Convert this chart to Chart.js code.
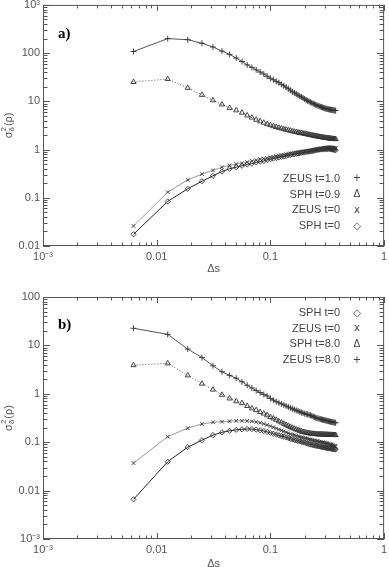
<!DOCTYPE html>
<html>
<head>
<meta charset="utf-8">
<script src="https://cdn.jsdelivr.net/npm/chart.js@4.4.0/dist/chart.umd.min.js"></script>
<style>
  body { margin: 0; background: #fff; width: 389px; height: 567px; overflow: hidden; }
  canvas { display: block; }
</style>
</head>
<body>
<canvas id="panelA" width="389" height="283"></canvas>
<canvas id="panelB" width="389" height="284"></canvas>
<script>
// grid spacing Δs (both panels)
const deltaS = [0.00625, 0.0125, 0.01875, 0.025, 0.03125, 0.0375, 0.04375, 0.05, 0.05625, 0.0625,
  0.06875, 0.075, 0.08125, 0.0875, 0.09375, 0.1, 0.10625, 0.1125, 0.11875, 0.125,
  0.13125, 0.1375, 0.14375, 0.15, 0.15625, 0.1625, 0.16875, 0.175, 0.18125, 0.1875,
  0.19375, 0.2, 0.20625, 0.2125, 0.21875, 0.225, 0.23125, 0.2375, 0.24375, 0.25,
  0.25625, 0.2625, 0.26875, 0.275, 0.28125, 0.2875, 0.29375, 0.3, 0.30625, 0.3125,
  0.31875, 0.325, 0.33125, 0.3375, 0.34375, 0.35, 0.35625, 0.3625, 0.36875, 0.375];

// panel a
const zeusT10 = [108, 200, 190, 160, 134, 110, 94, 79, 67, 57,
  50.6, 45, 40.5, 37, 33, 30, 28, 26, 24.3, 22.5,
  21, 19.6, 18.3, 17, 15.8, 15, 14.2, 13.4, 12.8, 12.3,
  11.7, 11.2, 10.7, 10.3, 9.9, 9.6, 9.3, 9.0, 8.75, 8.5,
  8.3, 8.1, 7.9, 7.75, 7.6, 7.45, 7.3, 7.2, 7.1, 7.0,
  6.92, 6.85, 6.78, 6.72, 6.66, 6.6, 6.55, 6.5, 6.47, 6.44];
const sphT09 = [25.2, 29, 19, 13.6, 10.5, 8.6, 7.3, 6.5, 5.8, 5.1,
  4.6, 4.15, 3.85, 3.6, 3.35, 3.2, 3.05, 2.93, 2.83, 2.74,
  2.65, 2.59, 2.52, 2.46, 2.4, 2.35, 2.3, 2.26, 2.22, 2.19,
  2.16, 2.12, 2.09, 2.06, 2.03, 2.0, 1.98, 1.95, 1.93, 1.9,
  1.88, 1.86, 1.84, 1.82, 1.81, 1.79, 1.77, 1.76, 1.75, 1.73,
  1.72, 1.71, 1.7, 1.69, 1.68, 1.67, 1.66, 1.66, 1.65, 1.65];
const zeusT0a = [0.026, 0.131, 0.235, 0.31, 0.37, 0.43, 0.47, 0.5, 0.52, 0.55,
  0.58, 0.6, 0.63, 0.65, 0.67, 0.69, 0.71, 0.73, 0.75, 0.77,
  0.78, 0.8, 0.81, 0.83, 0.84, 0.85, 0.87, 0.88, 0.89, 0.9,
  0.91, 0.92, 0.93, 0.94, 0.95, 0.96, 0.97, 0.98, 0.99, 1.0,
  1.01, 1.02, 1.03, 1.04, 1.05, 1.06, 1.07, 1.08, 1.09, 1.1,
  1.1, 1.11, 1.11, 1.11, 1.1, 1.1, 1.09, 1.08, 1.07, 1.06];
const sphT0a = [0.0175, 0.084, 0.154, 0.22, 0.285, 0.35, 0.4, 0.43, 0.46, 0.49,
  0.51, 0.54, 0.56, 0.58, 0.61, 0.63, 0.65, 0.67, 0.69, 0.71,
  0.72, 0.74, 0.76, 0.77, 0.79, 0.8, 0.82, 0.83, 0.84, 0.86,
  0.87, 0.88, 0.89, 0.9, 0.91, 0.92, 0.93, 0.94, 0.95, 0.97,
  0.98, 0.99, 1.0, 1.0, 1.01, 1.02, 1.02, 1.03, 1.03, 1.03,
  1.04, 1.04, 1.03, 1.03, 1.02, 1.01, 1.0, 0.99, 0.98, 0.97];

// panel b
const zeusT80 = [22.6, 16.9, 8.4, 5.6, 3.8, 2.85, 2.4, 2.1, 1.77, 1.5,
  1.32, 1.17, 1.06, 0.97, 0.9, 0.8, 0.74, 0.69, 0.65, 0.62,
  0.59, 0.56, 0.535, 0.51, 0.49, 0.47, 0.455, 0.44, 0.425, 0.41,
  0.4, 0.39, 0.38, 0.375, 0.365, 0.36, 0.35, 0.34, 0.33, 0.32,
  0.315, 0.31, 0.305, 0.3, 0.296, 0.292, 0.288, 0.285, 0.281, 0.278,
  0.275, 0.272, 0.268, 0.265, 0.262, 0.26, 0.258, 0.256, 0.254, 0.252];
const sphT80 = [3.9, 4.25, 2.4, 1.62, 1.22, 0.95, 0.8, 0.7, 0.64, 0.56,
  0.5, 0.46, 0.42, 0.39, 0.36, 0.33, 0.31, 0.29, 0.27, 0.255,
  0.24, 0.228, 0.217, 0.207, 0.198, 0.19, 0.183, 0.177, 0.172, 0.167,
  0.163, 0.16, 0.157, 0.155, 0.153, 0.151, 0.15, 0.149, 0.148, 0.147,
  0.146, 0.146, 0.145, 0.145, 0.145, 0.144, 0.144, 0.144, 0.143, 0.143,
  0.143, 0.142, 0.142, 0.142, 0.142, 0.141, 0.141, 0.141, 0.141, 0.14];
const zeusT0b = [0.037, 0.13, 0.195, 0.238, 0.258, 0.266, 0.272, 0.276, 0.277, 0.275,
  0.27, 0.262, 0.252, 0.24, 0.228, 0.215, 0.204, 0.193, 0.183, 0.175,
  0.167, 0.16, 0.153, 0.147, 0.143, 0.139, 0.135, 0.132, 0.129, 0.126,
  0.124, 0.122, 0.12, 0.118, 0.115, 0.113, 0.111, 0.109, 0.108, 0.106,
  0.105, 0.104, 0.102, 0.101, 0.1, 0.099, 0.098, 0.097, 0.096, 0.095,
  0.094, 0.092, 0.091, 0.09, 0.089, 0.087, 0.086, 0.085, 0.083, 0.082];
const sphT0b = [0.0066, 0.0395, 0.079, 0.11, 0.14, 0.16, 0.172, 0.18, 0.185, 0.188,
  0.186, 0.182, 0.176, 0.17, 0.163, 0.156, 0.15, 0.144, 0.139, 0.134,
  0.13, 0.126, 0.122, 0.118, 0.115, 0.112, 0.109, 0.106, 0.104, 0.102,
  0.1, 0.098, 0.096, 0.094, 0.092, 0.09, 0.089, 0.087, 0.086, 0.085,
  0.084, 0.083, 0.082, 0.081, 0.08, 0.079, 0.078, 0.078, 0.077, 0.076,
  0.076, 0.075, 0.074, 0.074, 0.073, 0.073, 0.072, 0.072, 0.071, 0.071];

const xTicks = [0.001, 0.01, 0.1, 1];
const xTickLabels = ['10\u207B\u00B3', '0.01', '0.1', '1'];
const yTicksA = [0.01, 0.1, 1, 10, 100, 1000];
const yTickLabelsA = ['0.01', '0.1', '1', '10', '100', '10\u00B3'];
const yTicksB = [0.001, 0.01, 0.1, 1, 10, 100];
const yTickLabelsB = ['10\u207B\u00B3', '0.01', '0.1', '1', '10', '100'];

const legendA = [['ZEUS t=1.0', '+'], ['SPH t=0.9', '\u0394'], ['ZEUS t=0', 'x'], ['SPH t=0', '\u25C7']];
const legendB = [['SPH t=0', '\u25C7'], ['ZEUS t=0', 'x'], ['SPH t=8.0', '\u0394'], ['ZEUS t=8.0', '+']];

const LBL = '#555';
const FONT = '"Liberation Sans", Arial, sans-serif';

function series(vals, style, lineColor, dash, radius) {
  return {
    data: deltaS.map((x, i) => ({ x: x, y: vals[i] })),
    showLine: true,
    borderColor: lineColor,
    borderWidth: 1,
    borderDash: dash || [],
    pointStyle: style,
    pointRadius: radius,
    pointBorderColor: '#333',
    pointBackgroundColor: 'rgba(0,0,0,0)',
    pointBorderWidth: 0.9
  };
}

// box, inward major/minor ticks, labels, legend
const panelDecor = {
  id: 'panelDecor',
  afterDraw(chart, args, o) {
    const { ctx, chartArea: ca, scales: { x, y } } = chart;
    ctx.save();
    ctx.strokeStyle = '#555';
    ctx.lineWidth = 1;
    ctx.strokeRect(ca.left + 0.5, ca.top + 0.5, ca.width - 1, ca.height - 1);
    ctx.beginPath();
    const logTicks = (sc, fn) => {
      const e0 = Math.round(Math.log10(sc.min)), e1 = Math.round(Math.log10(sc.max));
      for (let e = e0; e <= e1; e++) {
        for (let m = 1; m <= 9; m++) {
          const v = m * Math.pow(10, e);
          if (v > sc.max * 1.0001) break;
          fn(Math.round(sc.getPixelForValue(v)) + 0.5, m === 1 ? 6 : 3.5);
        }
      }
    };
    logTicks(x, (px, len) => {
      ctx.moveTo(px, ca.bottom); ctx.lineTo(px, ca.bottom - len);
      ctx.moveTo(px, ca.top); ctx.lineTo(px, ca.top + len);
    });
    logTicks(y, (py, len) => {
      ctx.moveTo(ca.left, py); ctx.lineTo(ca.left + len + 1, py);
      ctx.moveTo(ca.right, py); ctx.lineTo(ca.right - len - 1, py);
    });
    ctx.stroke();

    // panel letter
    ctx.fillStyle = '#000';
    ctx.font = 'bold 15px "Liberation Serif", serif';
    ctx.textBaseline = 'middle';
    ctx.textAlign = 'left';
    ctx.fillText(o.letter, 58, ca.top + o.letterDy);

    // legend
    ctx.fillStyle = '#444';
    o.rows.forEach((r, i) => {
      const ry = ca.top + o.legendDy + i * 15.7;
      ctx.font = '11px ' + FONT;
      ctx.textAlign = 'right';
      ctx.fillText(r[0], 340, ry);
      ctx.font = '10px "DejaVu Sans", sans-serif';
      ctx.textAlign = 'center';
      ctx.fillText(r[1], 357, ry);
    });

    // x title
    ctx.fillStyle = LBL;
    ctx.font = '11px ' + FONT;
    ctx.textAlign = 'center';
    ctx.fillText('\u0394s', (ca.left + ca.right) / 2, ca.bottom + o.titleDy);

    // y title sigma_delta^2(rho), rotated
    ctx.translate(9, (ca.top + ca.bottom) / 2);
    ctx.rotate(-Math.PI / 2);
    ctx.textAlign = 'left';
    ctx.font = '11px ' + FONT;
    const wS = ctx.measureText('\u03C3').width;
    ctx.font = '8px ' + FONT;
    const wSub = Math.max(ctx.measureText('\u03B4').width, ctx.measureText('2').width);
    ctx.font = '11px ' + FONT;
    const wP = ctx.measureText('(\u03C1)').width;
    let cx = -(wS + wSub + 1 + wP) / 2;
    ctx.fillText('\u03C3', cx, 0);
    cx += wS;
    ctx.font = '8px ' + FONT;
    ctx.fillText('\u03B4', cx, 3);
    ctx.fillText('2', cx, -5);
    cx += wSub + 1;
    ctx.font = '11px ' + FONT;
    ctx.fillText('(\u03C1)', cx, 0);
    ctx.restore();
  }
};

function buildPanel(id, datasets, yMin, yMax, yTicks, yLabels, scaleH, padTop, decor) {
  new Chart(document.getElementById(id).getContext('2d'), {
    type: 'scatter',
    data: { datasets: datasets },
    options: {
      responsive: false,
      animation: false,
      layout: { padding: { top: padTop, right: 1, left: 0, bottom: 0 } },
      plugins: { legend: { display: false }, tooltip: { enabled: false }, panelDecor: decor },
      scales: {
        x: {
          type: 'logarithmic', min: 0.001, max: 1,
          grid: { display: false, drawTicks: false }, border: { display: false },
          afterBuildTicks: sc => { sc.ticks = xTicks.map(v => ({ value: v })); },
          afterFit: sc => { sc.height = scaleH; sc.paddingLeft = 0; sc.paddingRight = 0; },
          ticks: {
            autoSkip: false, maxRotation: 0, padding: 4, color: LBL,
            font: { family: FONT, size: 11 },
            callback: (v, i) => xTickLabels[i]
          }
        },
        y: {
          type: 'logarithmic', min: yMin, max: yMax,
          grid: { display: false, drawTicks: false }, border: { display: false },
          afterBuildTicks: sc => { sc.ticks = yTicks.map(v => ({ value: v })); },
          afterFit: sc => { sc.width = 43; sc.paddingTop = 0; sc.paddingBottom = 0; },
          ticks: {
            autoSkip: false, padding: 3, color: LBL,
            font: { family: FONT, size: 11 },
            callback: (v, i) => yLabels[i]
          }
        }
      }
    },
    plugins: [panelDecor]
  });
}

buildPanel('panelA', [
  series(zeusT10, 'cross', '#555', null, 3),
  series(sphT09, 'triangle', '#555', [1, 2], 3),
  series(zeusT0a, 'crossRot', '#999', null, 2.6),
  series(sphT0a, 'rectRot', '#222', null, 2.6)
], 0.01, 1000, yTicksA, yTickLabelsA, 37, 3,
  { letter: 'a)', letterDy: 29, rows: legendA, legendDy: 174, titleDy: 23 });

buildPanel('panelB', [
  series(zeusT80, 'cross', '#555', null, 3),
  series(sphT80, 'triangle', '#555', [1, 2], 3),
  series(zeusT0b, 'crossRot', '#999', null, 2.6),
  series(sphT0b, 'rectRot', '#222', null, 2.6)
], 0.001, 100, yTicksB, yTickLabelsB, 28, 14,
  { letter: 'b)', letterDy: 28, rows: legendB, legendDy: 16, titleDy: 25 });
</script>
</body>
</html>
